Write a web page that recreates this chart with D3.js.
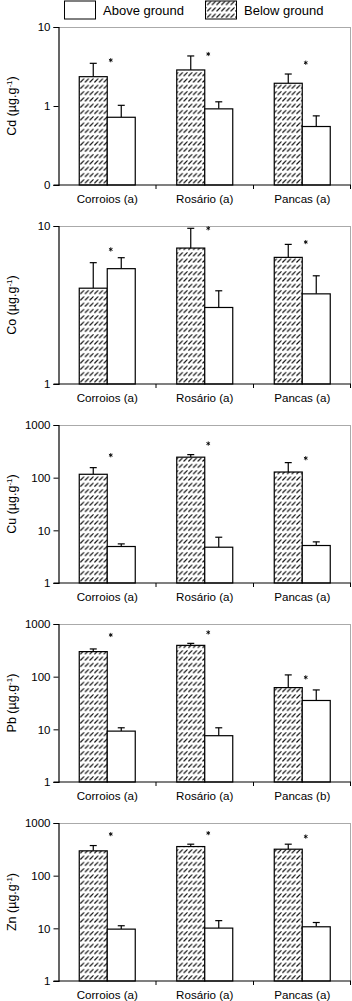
<!DOCTYPE html>
<html>
<head>
<meta charset="utf-8">
<script src="https://cdn.jsdelivr.net/npm/d3@7"></script>
<style>
    body { margin: 0; background: #fff; }
    svg { display: block; font-family: "Liberation Sans", Arial, sans-serif; }
</style>
</head>
<body>
<div id="chart"></div>
<script>
// values (means and upper error)
var categories = ['Corroios', 'Rosário', 'Pancas'];
var elements = ['Cd', 'Co', 'Cu', 'Pb', 'Zn'];
var letters = [
    ['a', 'a', 'a'],
    ['a', 'a', 'a'],
    ['a', 'a', 'a'],
    ['a', 'a', 'b'],
    ['a', 'a', 'a']
];
var belowMeans = [
    [2.35, 2.86, 1.94],
    [4.04, 7.25, 6.33],
    [116, 245, 128],
    [299, 393, 62],
    [296, 357, 318]
];
var belowErr = [
    [1.12, 1.44, 0.60],
    [1.82, 2.42, 1.32],
    [39, 29, 65],
    [37, 36, 46],
    [77, 39, 78]
];
var aboveMeans = [
    [0.72, 0.92, 0.55],
    [5.37, 3.05, 3.72],
    [4.93, 4.78, 5.15],
    [9.25, 7.57, 35.3],
    [9.66, 10.1, 10.7]
];
var aboveErr = [
    [0.30, 0.21, 0.20],
    [0.93, 0.84, 1.12],
    [0.60, 2.62, 0.89],
    [1.45, 3.13, 20.7],
    [1.54, 3.9, 2.2]
];
var asterisks = [
    [3.8, 4.55, 3.53],
    [7.11, 9.67, 7.91],
    [267, 444, 234],
    [619, 692, 97],
    [615, 642, 553]
];
var yDomains = [[0.1, 10], [1, 10], [1, 1000], [1, 1000], [1, 1000]];
var yTicks = [[0.1, 1, 10], [1, 10], [1, 10, 100, 1000], [1, 10, 100, 1000], [1, 10, 100, 1000]];
var yTickLabels = [['0', '1', '10'], ['1', '10'], ['1', '10', '100', '1000'], ['1', '10', '100', '1000'], ['1', '10', '100', '1000']];
var seriesNames = ['Below ground', 'Above ground'];

var width = 352;
var height = 1001;
var left = 58.5;
var right = 351;
var firstTop = 27;
var panelStep = 199;
var plotHeight = 158;
var barWidth = 28;

var svg = d3.select('#chart')
    .append('svg')
    .attr('width', width)
    .attr('height', height);

var defs = svg.append('defs');
var pattern = defs.append('pattern')
    .attr('id', 'hatch')
    .attr('patternUnits', 'userSpaceOnUse')
    .attr('width', 4.7)
    .attr('height', 6.3);
pattern.append('rect')
    .attr('width', 4.7)
    .attr('height', 6.3)
    .attr('fill', '#fff');
pattern.append('line')
    .attr('x1', 0.4)
    .attr('y1', 5.0)
    .attr('x2', 4.2)
    .attr('y2', 1.2)
    .attr('stroke', '#000')
    .attr('stroke-width', 1.1);

// legend
var legend = [
    {name: 'Above ground', x: 64.5, fill: '#fff'},
    {name: 'Below ground', x: 205.5, fill: 'url(#hatch)'}
];
var lg = svg.selectAll('g.legend')
    .data(legend)
    .enter()
    .append('g')
    .attr('class', 'legend');
lg.append('rect')
    .attr('x', function (d) { return d.x; })
    .attr('y', 1)
    .attr('width', 31)
    .attr('height', 18)
    .attr('fill', function (d) { return d.fill; })
    .attr('stroke', '#000')
    .attr('stroke-width', 1);
lg.append('text')
    .attr('x', function (d) { return d.x + 38.5; })
    .attr('y', 15)
    .attr('font-size', '13px')
    .text(function (d) { return d.name; });

var xScale = d3.scaleBand()
    .domain(categories)
    .range([left, right]);

var subScale = d3.scaleBand()
    .domain(seriesNames)
    .range([xScale.bandwidth() / 2 - barWidth, xScale.bandwidth() / 2 + barWidth]);

var star = d3.symbol().type(d3.symbolAsterisk).size(12);

elements.forEach(function (el, i) {
    var top = firstTop + i * panelStep;
    var g = svg.append('g')
        .attr('transform', 'translate(0,' + top + ')');

    var yScale = d3.scaleLog()
        .domain(yDomains[i])
        .range([plotHeight, 0]);

    var rows = categories.map(function (c, j) {
        return [
            {cat: c, series: seriesNames[0], mean: belowMeans[i][j], err: belowErr[i][j]},
            {cat: c, series: seriesNames[1], mean: aboveMeans[i][j], err: aboveErr[i][j]}
        ];
    });
    var bars = [].concat.apply([], rows);

    // frame top / right
    g.append('line')
        .attr('x1', left).attr('x2', right)
        .attr('y1', 0.5).attr('y2', 0.5)
        .attr('stroke', '#aaa').attr('stroke-width', 1);
    g.append('line')
        .attr('x1', right - 0.5).attr('x2', right - 0.5)
        .attr('y1', 0).attr('y2', plotHeight)
        .attr('stroke', '#aaa').attr('stroke-width', 1);

    // error bars (upper only)
    var eb = g.selectAll('g.err')
        .data(bars)
        .enter()
        .append('g')
        .attr('class', 'err')
        .attr('transform', function (d) {
            return 'translate(' + (xScale(d.cat) + subScale(d.series) + barWidth / 2) + ',0)';
        });
    eb.append('line')
        .attr('x1', 0).attr('x2', 0)
        .attr('y1', function (d) { return yScale(d.mean); })
        .attr('y2', function (d) { return yScale(d.mean + d.err); })
        .attr('stroke', '#000').attr('stroke-width', 1.2);
    eb.append('line')
        .attr('x1', -3.5).attr('x2', 3.5)
        .attr('y1', function (d) { return yScale(d.mean + d.err); })
        .attr('y2', function (d) { return yScale(d.mean + d.err); })
        .attr('stroke', '#000').attr('stroke-width', 1.2);

    g.selectAll('rect.bar')
        .data(bars)
        .enter()
        .append('rect')
        .attr('class', 'bar')
        .attr('x', function (d) { return xScale(d.cat) + subScale(d.series); })
        .attr('y', function (d) { return yScale(d.mean); })
        .attr('width', barWidth)
        .attr('height', function (d) { return plotHeight - yScale(d.mean); })
        .attr('fill', function (d) { return d.series === seriesNames[0] ? 'url(#hatch)' : '#fff'; })
        .attr('stroke', '#000')
        .attr('stroke-width', 1.2);

    // significance marks
    g.selectAll('path.star')
        .data(asterisks[i])
        .enter()
        .append('path')
        .attr('class', 'star')
        .attr('transform', function (d, j) {
            return 'translate(' + (xScale(categories[j]) + xScale.bandwidth() / 2 + 3.5) + ',' + yScale(d) + ')';
        })
        .attr('d', star)
        .attr('fill', 'none')
        .attr('stroke', '#000')
        .attr('stroke-width', 0.9);

    // y axis
    var yAxis = d3.axisLeft(yScale)
        .tickValues(yTicks[i])
        .tickFormat(function (d, k) { return yTickLabels[i][k]; })
        .tickSize(5)
        .tickPadding(3);
    var ya = g.append('g')
        .attr('transform', 'translate(' + left + ',0)')
        .call(yAxis);
    ya.select('.domain').attr('stroke', '#000').attr('stroke-width', 1.2);
    ya.selectAll('text')
        .attr('font-family', '"Liberation Sans", Arial, sans-serif')
        .attr('font-size', '11.5px')
        .attr('fill', '#000');

    // x axis: ticks at band edges, labels at band centres
    var xa = g.append('g')
        .attr('transform', 'translate(0,' + plotHeight + ')');
    xa.append('line')
        .attr('x1', left - 5).attr('x2', right)
        .attr('y1', 0).attr('y2', 0)
        .attr('stroke', '#000').attr('stroke-width', 1.2);
    xa.selectAll('line.tick')
        .data(categories.slice(1))
        .enter()
        .append('line')
        .attr('class', 'tick')
        .attr('x1', function (d) { return xScale(d); })
        .attr('x2', function (d) { return xScale(d); })
        .attr('y1', 0).attr('y2', 4)
        .attr('stroke', '#000');
    xa.append('line')
        .attr('x1', right - 0.5).attr('x2', right - 0.5)
        .attr('y1', 0).attr('y2', 4)
        .attr('stroke', '#000');
    xa.selectAll('text.cat')
        .data(categories)
        .enter()
        .append('text')
        .attr('class', 'cat')
        .attr('x', function (d) { return xScale(d) + xScale.bandwidth() / 2; })
        .attr('y', 18)
        .attr('text-anchor', 'middle')
        .attr('font-size', '11.6px')
        .text(function (d, j) { return d + ' (' + letters[i][j] + ')'; });

    // y label
    var lab = g.append('text')
        .attr('transform', 'translate(16,' + (plotHeight / 2) + ') rotate(-90)')
        .attr('text-anchor', 'middle')
        .attr('font-size', '12.5px');
    lab.append('tspan').text(el + ' (µg.g');
    lab.append('tspan')
        .attr('baseline-shift', 'super')
        .attr('font-size', '8px')
        .text('-1');
    lab.append('tspan').text(')');
});
</script>
</body>
</html>
